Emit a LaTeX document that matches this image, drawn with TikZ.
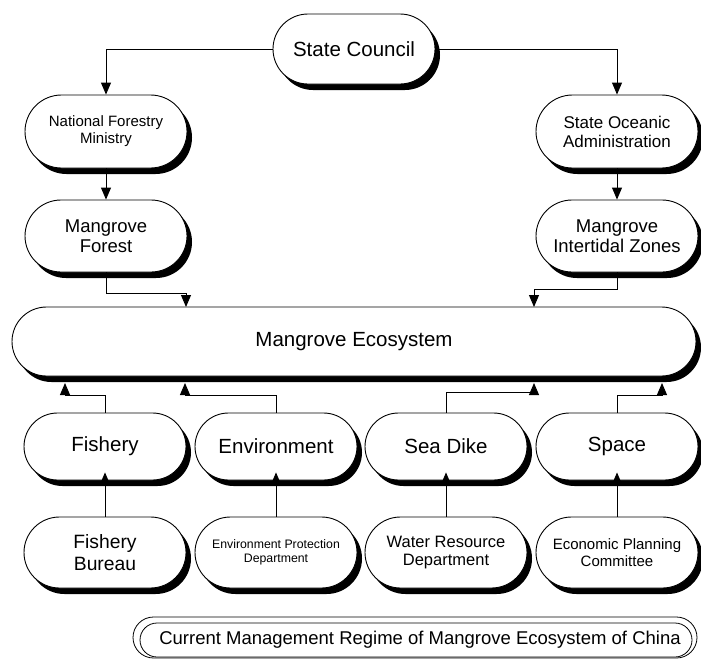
\documentclass[tikz,border=0pt]{standalone}
\usepackage{fontspec}
\setmainfont{Liberation Sans}
\usetikzlibrary{shapes.misc,shadows,arrows.meta}
\newcommand\fsz[2]{\fontsize{#1}{#2}\selectfont}
\begin{document}
\begin{tikzpicture}[x=1pt,y=1pt,
  box/.style={rounded rectangle, draw, line width=0.9pt, fill=white,
    minimum width=162pt, minimum height=70pt, inner sep=0pt, align=center,
    drop shadow={shadow xshift=5pt, shadow yshift=-6pt, fill=black, opacity=1}},
  arr/.style={line width=0.9pt, -{Triangle[length=12pt,width=10pt]}},
  ttl/.style={rounded rectangle, draw, line width=0.8pt, inner sep=0pt}]
\useasboundingbox (0,0) rectangle (701,-659);
% top
\node[box, minimum height=70pt, font=\fsz{20.5}{23}] (sc) at (354,-49) {State Council};
\node[box, minimum height=73pt, font=\fsz{15}{17}] (nfm) at (106,-131.5) {National Forestry\\Ministry};
\node[box, minimum height=73pt, font=\fsz{17}{19}] (soa) at (617,-131.5) {State Oceanic\\Administration};
\node[box, minimum height=72pt, font=\fsz{18.5}{20.5}] (mf) at (106,-236) {Mangrove\\Forest};
\node[box, minimum height=72pt, font=\fsz{18.5}{20.5}] (miz) at (617,-236) {Mangrove\\Intertidal Zones};
% ecosystem
\node[box, minimum width=684pt, minimum height=69pt, font=\fsz{20.5}{23}] (eco) at (354,-341.5) {Mangrove Ecosystem};
% middle row
\node[box, minimum height=67pt, font=\fsz{20.5}{23}] (fish) at (105,-446.5) {Fishery};
\node[box, minimum height=67pt, font=\fsz{20.5}{23}] (env) at (276,-446.5) {Environment};
\node[box, minimum height=67pt, font=\fsz{20.5}{23}] (sea) at (446,-446.5) {Sea Dike};
\node[box, minimum height=67pt, font=\fsz{20.5}{23}] (spc) at (617,-446.5) {Space};
% bottom row
\node[box, minimum height=71pt, font=\fsz{19.3}{21.5}] (fb) at (105,-552.5) {Fishery\\Bureau};
\node[box, minimum height=71pt, font=\fsz{12.3}{14}] (epd) at (276,-552.5) {Environment Protection\\Department};
\node[box, minimum height=71pt, font=\fsz{16.5}{18.5}] (wrd) at (446,-552.5) {Water Resource\\Department};
\node[box, minimum height=71pt, font=\fsz{15}{17}] (epc) at (617,-552.5) {Economic Planning\\Committee};
% title
\node[ttl, minimum width=564pt, minimum height=41pt] (tout) at (415,-637.5) {};
\node[ttl, minimum width=552pt, minimum height=34pt] (tin) at (416,-640) {};
\node[font=\fsz{18.5}{21}] (title) at (420,-640) {Current Management Regime of Mangrove Ecosystem of China};
% coordinates
\coordinate (t1) at (186,-307);
\coordinate (t2) at (534,-307);
\coordinate (b1) at (65,-383);
\coordinate (b2) at (185,-383);
\coordinate (b3) at (534,-383);
\coordinate (b4) at (662,-383);
% connectors
\draw[arr] (sc.west) -| (nfm.north);
\draw[arr] (sc.east) -| (soa.north);
\draw[arr] (nfm.south) -- (mf.north);
\draw[arr] (soa.south) -- (miz.north);
\draw[arr] (mf.south) -- ++(0,-21) -| (t1);
\draw[arr] (miz.south) -- ++(0,-17) -| (t2);
\draw[arr] (fish.north) -- ++(0,17) -| (b1);
\draw[arr] (env.north) -- ++(0,17) -| (b2);
\draw[arr] (sea.north) -- ++(0,20) -| (b3);
\draw[arr] (spc.north) -- ++(0,17) -| (b4);
\draw[arr, shorten >=-8pt] (fb.north) -- (fish.south);
\draw[arr, shorten >=-8pt] (epd.north) -- (env.south);
\draw[arr, shorten >=-8pt] (wrd.north) -- (sea.south);
\draw[arr, shorten >=-8pt] (epc.north) -- (spc.south);
\end{tikzpicture}
\end{document}
